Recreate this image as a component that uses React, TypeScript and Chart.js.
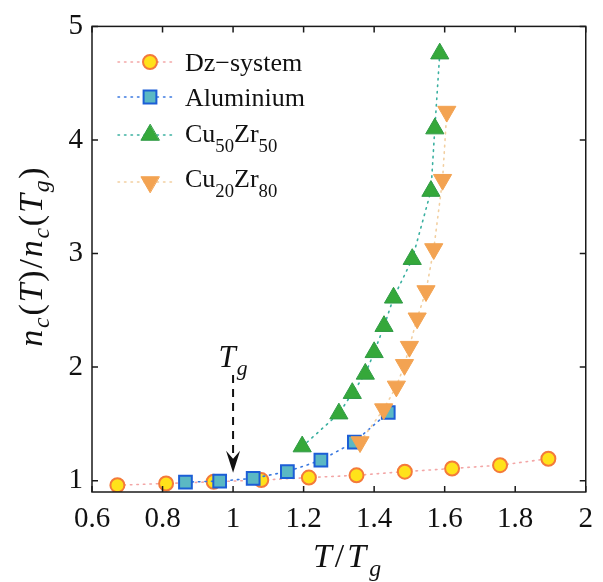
import React, { useEffect, useRef } from 'react';
import { Chart, registerables } from 'chart.js';

Chart.register(...registerables);

// ---- data ----
const dzX = [0.672, 0.81, 0.945, 1.08, 1.215, 1.35, 1.487, 1.621, 1.757, 1.894];
const dzY = [0.96, 0.975, 0.99, 1.005, 1.027, 1.047, 1.079, 1.107, 1.136, 1.193];

const alX = [0.865, 0.962, 1.057, 1.154, 1.249, 1.344, 1.44];
const alY = [0.987, 0.996, 1.02, 1.08, 1.18, 1.34, 1.6];

const cu50X = [1.196, 1.3, 1.338, 1.375, 1.4, 1.428, 1.455, 1.508, 1.561, 1.572, 1.586];
const cu50Y = [1.3, 1.59, 1.77, 1.94, 2.13, 2.36, 2.61, 2.95, 3.55, 4.1, 4.76];

const cu20X = [1.36, 1.427, 1.463, 1.486, 1.5, 1.522, 1.547, 1.569, 1.594, 1.606];
const cu20Y = [1.34, 1.63, 1.83, 2.02, 2.18, 2.43, 2.67, 3.04, 3.65, 4.25];

const xTicks = [0.6, 0.8, 1, 1.2, 1.4, 1.6, 1.8, 2];
const yTicks = [1, 2, 3, 4, 5];

const SERIF = '"Liberation Serif", "DejaVu Serif", serif';

type Part = { t: string; it?: boolean; sub?: boolean };

function fontFor(p: Part, size: number, subScale: number) {
  return `${p.it ? 'italic ' : ''}${p.sub ? size * subScale : size}px ${SERIF}`;
}

function richWidth(ctx: CanvasRenderingContext2D, parts: Part[], size: number, subScale: number, gap: number) {
  let w = 0;
  for (const p of parts) {
    ctx.font = fontFor(p, size, subScale);
    w += ctx.measureText(p.t).width + gap;
  }
  return w - gap;
}

function drawRich(
  ctx: CanvasRenderingContext2D,
  parts: Part[],
  x: number,
  y: number,
  size: number,
  align: 'left' | 'center',
  subScale = 0.7,
  subDy = 0.3,
  gap = 0
) {
  const w = richWidth(ctx, parts, size, subScale, gap);
  let cx = align === 'center' ? x - w / 2 : x;
  ctx.textAlign = 'left';
  ctx.textBaseline = 'alphabetic';
  for (const p of parts) {
    ctx.font = fontFor(p, size, subScale);
    ctx.fillText(p.t, cx, y + (p.sub ? size * subDy : 0));
    cx += ctx.measureText(p.t).width + gap;
  }
}

type Style = {
  label: Part[];
  shape: 'circle' | 'rect' | 'up' | 'down';
  fill: string;
  edge: string;
  line: string;
};

const styles: Style[] = [
  { label: [{ t: 'Dz\u2212system' }], shape: 'circle', fill: '#ffe21a', edge: '#f47a3a', line: '#f3a6a6' },
  { label: [{ t: 'Aluminium' }], shape: 'rect', fill: '#5bb8c4', edge: '#1c5ed6', line: '#3a78e0' },
  {
    label: [{ t: 'Cu' }, { t: '50', sub: true }, { t: 'Zr' }, { t: '50', sub: true }],
    shape: 'up', fill: '#35a83a', edge: '#2f9a45', line: '#3ab0a0',
  },
  {
    label: [{ t: 'Cu' }, { t: '20', sub: true }, { t: 'Zr' }, { t: '80', sub: true }],
    shape: 'down', fill: '#f3a352', edge: '#f3a352', line: '#f2cfa0',
  },
];

function drawMarker(ctx: CanvasRenderingContext2D, s: Style, x: number, y: number) {
  ctx.beginPath();
  ctx.fillStyle = s.fill;
  ctx.strokeStyle = s.edge;
  if (s.shape === 'circle') {
    ctx.lineWidth = 2;
    ctx.arc(x, y, 7, 0, Math.PI * 2);
  } else if (s.shape === 'rect') {
    ctx.lineWidth = 2;
    ctx.rect(x - 6.4, y - 6.4, 12.8, 12.8);
  } else {
    ctx.lineWidth = 1;
    const r = 10.5;
    const dir = s.shape === 'up' ? -1 : 1;
    ctx.moveTo(x, y + dir * r);
    ctx.lineTo(x - r * 0.866, y - dir * r * 0.5);
    ctx.lineTo(x + r * 0.866, y - dir * r * 0.5);
    ctx.closePath();
  }
  ctx.fill();
  ctx.stroke();
}

const overlay = {
  id: 'overlay',
  afterDraw(chart: any) {
    const { ctx, chartArea: a, scales } = chart;
    const xs = scales.x;
    const ys = scales.y;
    ctx.save();

    // frame
    ctx.strokeStyle = '#1a1a1a';
    ctx.lineWidth = 1.5;
    ctx.setLineDash([]);
    ctx.strokeRect(a.left, a.top, a.right - a.left, a.bottom - a.top);

    // inward ticks
    ctx.beginPath();
    for (const v of xTicks) {
      const px = xs.getPixelForValue(v);
      ctx.moveTo(px, a.bottom);
      ctx.lineTo(px, a.bottom - 6);
      ctx.moveTo(px, a.top);
      ctx.lineTo(px, a.top + 6);
    }
    for (const v of yTicks) {
      const py = ys.getPixelForValue(v);
      ctx.moveTo(a.left, py);
      ctx.lineTo(a.left + 6, py);
      ctx.moveTo(a.right, py);
      ctx.lineTo(a.right - 6, py);
    }
    ctx.stroke();

    // T_g annotation
    const ax = xs.getPixelForValue(1);
    const yTop = ys.getPixelForValue(1.93);
    const yTip = ys.getPixelForValue(1.07);
    ctx.fillStyle = '#111';
    drawRich(ctx, [{ t: 'T', it: true }, { t: 'g', it: true, sub: true }], ax, ys.getPixelForValue(2.0), 31, 'center', 0.7, 0.25, 1);
    ctx.strokeStyle = '#111';
    ctx.lineWidth = 2;
    ctx.setLineDash([8, 6]);
    ctx.beginPath();
    ctx.moveTo(ax, yTop);
    ctx.lineTo(ax, yTip - 12);
    ctx.stroke();
    ctx.setLineDash([]);
    ctx.beginPath();
    ctx.moveTo(ax, yTip);
    ctx.lineTo(ax - 7, yTip - 22);
    ctx.lineTo(ax, yTip - 14);
    ctx.lineTo(ax + 7, yTip - 22);
    ctx.closePath();
    ctx.fill();

    // legend
    const rows = [
      { my: 62, ty: 71 },
      { my: 97, ty: 106 },
      { my: 135, ty: 142 },
      { my: 182, ty: 187 },
    ];
    styles.forEach((s, i) => {
      const r = rows[i];
      ctx.strokeStyle = s.line;
      ctx.lineWidth = 1.5;
      ctx.lineCap = 'round';
      ctx.setLineDash([1.5, 5]);
      ctx.beginPath();
      ctx.moveTo(118, r.my);
      ctx.lineTo(174, r.my);
      ctx.stroke();
      ctx.setLineDash([]);
      drawMarker(ctx, s, 150, r.my);
      ctx.fillStyle = '#111';
      drawRich(ctx, s.label, 185, r.ty, 26, 'left', 0.72, 0.38);
    });

    // axis titles
    ctx.fillStyle = '#111';
    drawRich(
      ctx,
      [{ t: 'T', it: true }, { t: '/' }, { t: 'T', it: true }, { t: 'g', it: true, sub: true }],
      347,
      567,
      34,
      'center',
      0.7,
      0.25,
      3
    );
    ctx.save();
    ctx.translate(42, 257);
    ctx.rotate(-Math.PI / 2);
    drawRich(
      ctx,
      [
        { t: 'n', it: true }, { t: 'c', it: true, sub: true }, { t: '(' }, { t: 'T', it: true }, { t: ')' },
        { t: '/' },
        { t: 'n', it: true }, { t: 'c', it: true, sub: true }, { t: '(' }, { t: 'T', it: true },
        { t: 'g', it: true, sub: true }, { t: ')' },
      ],
      0,
      0,
      34,
      'center',
      0.7,
      0.22,
      1.8
    );
    ctx.restore();

    ctx.restore();
  },
};

function toPts(xsArr: number[], ysArr: number[]) {
  return xsArr.map((x, i) => ({ x, y: ysArr[i] }));
}

export default function App() {
  const ref = useRef<HTMLCanvasElement | null>(null);

  useEffect(() => {
    if (!ref.current) return;
    const mk = (i: number, xsArr: number[], ysArr: number[], order: number) => {
      const s = styles[i];
      const base: any = {
        label: s.label.map((p) => p.t).join(''),
        data: toPts(xsArr, ysArr),
        showLine: true,
        borderColor: s.line,
        borderWidth: 1.6,
        borderDash: [1.5, 5],
        borderCapStyle: 'round',
        pointBackgroundColor: s.fill,
        pointBorderColor: s.edge,
        order,
      };
      if (s.shape === 'circle') Object.assign(base, { pointStyle: 'circle', pointRadius: 7, pointBorderWidth: 2 });
      if (s.shape === 'rect') Object.assign(base, { pointStyle: 'rect', pointRadius: 9, pointBorderWidth: 2 });
      if (s.shape === 'up') Object.assign(base, { pointStyle: 'triangle', pointRadius: 10.5, pointBorderWidth: 1 });
      if (s.shape === 'down')
        Object.assign(base, { pointStyle: 'triangle', pointRotation: 180, pointRadius: 10.5, pointBorderWidth: 1 });
      return base;
    };

    const chart = new Chart(ref.current, {
      type: 'scatter',
      data: {
        datasets: [
          mk(0, dzX, dzY, 4),
          mk(1, alX, alY, 3),
          mk(2, cu50X, cu50Y, 2),
          mk(3, cu20X, cu20Y, 1),
        ],
      },
      options: {
        responsive: false,
        animation: false,
        layout: { padding: { left: 0, top: 14, right: 9, bottom: 0 } },
        plugins: { legend: { display: false }, tooltip: { enabled: false } },
        scales: {
          x: {
            type: 'linear',
            min: 0.6,
            max: 2,
            grid: { display: false, drawTicks: false },
            border: { display: false },
            afterBuildTicks: (sc: any) => {
              sc.ticks = xTicks.map((v) => ({ value: v }));
            },
            afterFit: (sc: any) => {
              sc.height = 90;
            },
            ticks: {
              padding: 10,
              color: '#111',
              font: { family: SERIF, size: 29 },
              callback: (v: any) => String(Math.round(Number(v) * 10) / 10),
            },
          },
          y: {
            type: 'linear',
            min: 0.9,
            max: 5,
            grid: { display: false, drawTicks: false },
            border: { display: false },
            afterBuildTicks: (sc: any) => {
              sc.ticks = yTicks.map((v) => ({ value: v }));
            },
            afterFit: (sc: any) => {
              sc.width = 92;
            },
            ticks: {
              padding: 9,
              color: '#111',
              font: { family: SERIF, size: 29 },
              callback: (v: any) => String(v),
            },
          },
        },
      },
      plugins: [overlay],
    });
    return () => chart.destroy();
  }, []);

  return (
    <div style={{ position: 'absolute', left: 0, top: 0, width: 603, height: 582, background: '#fff' }}>
      <canvas ref={ref} width={603} height={582} style={{ display: 'block' }} />
    </div>
  );
}
